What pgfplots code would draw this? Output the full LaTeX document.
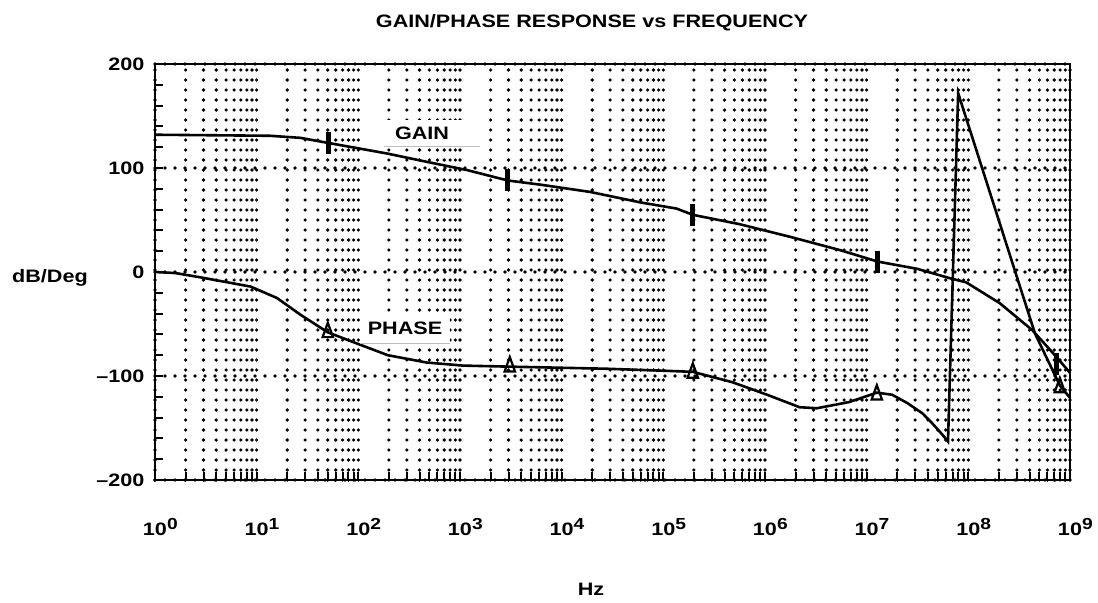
\documentclass[border=0pt]{standalone}
\usepackage{fontspec}
\setmainfont{Liberation Sans}[FakeStretch=1.2]
\usepackage{pgfplots}
\pgfplotsset{compat=1.18}
\newcommand{\dec}[1]{10\rlap{\raisebox{3pt}{\fontsize{8}{9}\selectfont #1}}}
\begin{document}
\begin{tikzpicture}
\useasboundingbox (-77.5pt,-61pt) rectangle (471.5pt,240pt);
\begin{axis}[
  scale only axis, width=457.5pt, height=208pt,
  xmode=log, log basis x=10,
  xmin=1, xmax=1e9, ymin=-200, ymax=200,
  axis line style={line width=1.4pt},
  xtick={1,10,100,1000,10000,100000,1000000,10000000,100000000,1000000000},
  xticklabels={\dec{0},\dec{1},\dec{2},\dec{3},\dec{4},\dec{5},\dec{6},\dec{7},\dec{8},\dec{9}},
  minor xtick={2,3,4,5,6,7,8,9,
    20,30,40,50,60,70,80,90,
    200,300,400,500,600,700,800,900,
    2000,3000,4000,5000,6000,7000,8000,9000,
    20000,30000,40000,50000,60000,70000,80000,90000,
    200000,300000,400000,500000,600000,700000,800000,900000,
    2000000,3000000,4000000,5000000,6000000,7000000,8000000,9000000,
    20000000,30000000,40000000,50000000,60000000,70000000,80000000,90000000,
    200000000,300000000,400000000,500000000,600000000,700000000,800000000,900000000},
  ytick={-200,-100,0,100,200},
  yticklabels={\textendash200,\textendash100,0,100,200},
  minor ytick={-180,-160,...,180},
  tick pos=left, tick align=inside,
  major tick length=4pt, minor tick length=4pt,
  every tick/.style={black, line width=1pt},
  xmajorgrids, xminorgrids, ymajorgrids,
  grid style={black, line width=1.8pt, dash pattern=on 0pt off 5pt, line cap=round},
  major grid style={black, line width=1.8pt, dash pattern=on 0pt off 5pt, line cap=round},
  minor grid style={black, line width=1.8pt, dash pattern=on 0pt off 5pt, line cap=round},
  tick label style={font=\fontsize{9}{11}\selectfont\bfseries},
  xticklabel style={anchor=base, yshift=-27.5pt},
  yticklabel style={anchor=east, xshift=-1.8pt},
  clip mode=individual,
]
% GAIN
\addplot[black, line width=1.3pt] coordinates {
(1,132) (13.5,131) (26.9,129) (51.3,124) (190.5,114) (468,106) (1175,98) (2951,88)
(6166,84) (19050,77) (58880,67) (134900,61) (195000,55) (562300,46)
(1.738e6,34) (5.495e6,21) (1.288e7,10) (3.162e7,3) (6.607e7,-6)
(9.55e7,-10) (2.04e8,-30) (4.27e8,-56) (7.41e8,-82) (1e9,-97)
};
% PHASE
\addplot[black, line width=1.3pt] coordinates {
(1,0) (1.585,-1) (2.754,-5) (8.71,-14) (15.85,-25) (26.9,-41) (50.1,-58)
(104.7,-70) (195,-80) (468,-87) (1072,-90) (3090,-91) (27540,-93)
(107200,-95) (195000,-96) (478600,-106) (1.047e6,-118) (2.188e6,-130)
(3.236e6,-131) (6.761e6,-125) (1.259e7,-116) (1.778e7,-118) (2.512e7,-126)
(3.548e7,-136) (4.467e7,-146) (5.623e7,-157) (6.31e7,-163)
(7.943e7,172) (4.519e8,-59) (7.943e8,-109) (1e9,-121)
};
% gain markers
\addplot[only marks, mark=|, mark size=5.5pt, mark options={line width=2.5pt, black}] coordinates {
(51.3,124) (2951,88) (195000,55) (1.288e7,10) (7.41e8,-88)
};
% phase markers
\addplot[only marks, mark=triangle, mark size=3pt, mark options={fill=white, draw=black, line width=1.1pt, yscale=1.6}] coordinates {
(50.1,-58) (3090,-91) (195000,-97) (1.259e7,-118) (7.943e8,-111)
};
\node[fill=white, inner sep=0pt, minimum width=47.5pt, minimum height=13pt] (gbox) at (axis cs:530.9,133.6) {};
\draw[black!25, line width=0.6pt] (gbox.south west) -- (gbox.south east);
\node[font=\fontsize{9}{11}\selectfont\bfseries, xshift=-5pt] at (gbox.center) {GAIN};
\node[fill=white, inner sep=0pt, minimum width=45pt, minimum height=15pt] (pbox) at (axis cs:287.7,-53.8) {};
\draw[black!25, line width=0.6pt] (pbox.south west) -- (pbox.south east);
\node[font=\fontsize{9}{11}\selectfont\bfseries] at (pbox.center) {PHASE};
\end{axis}
\node[anchor=base, font=\fontsize{9}{11}\selectfont\bfseries] at (218.5pt,226.5pt) {GAIN/PHASE RESPONSE vs FREQUENCY};
\node[anchor=base, font=\fontsize{9}{11}\selectfont\bfseries] at (-52.5pt,99pt) {dB/Deg};
\node[anchor=base, font=\fontsize{9}{11}\selectfont\bfseries] at (218pt,-57.5pt) {Hz};
\end{tikzpicture}
\end{document}
